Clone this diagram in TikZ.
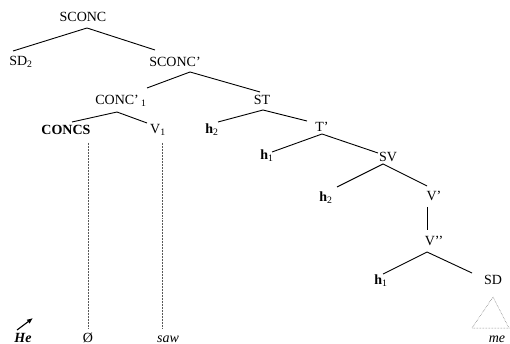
\documentclass[tikz,border=0pt]{standalone}
\usepackage{fontspec}
\setmainfont{Liberation Serif}
\usetikzlibrary{arrows.meta}
\newcommand{\lsub}[1]{\textsubscript{\mdseries #1}}
\begin{document}
\begin{tikzpicture}[x=1pt,y=-1pt,
  lbl/.style={inner sep=0pt,font=\fontsize{14}{16}\selectfont},
  blbl/.style={lbl,font=\fontsize{14}{16}\selectfont\bfseries},
  ilbl/.style={lbl,font=\fontsize{14}{16}\selectfont\itshape},
  branch/.style={line width=0.9pt},
  trace/.style={densely dotted,line width=0.5pt,gray!70!black}]
\useasboundingbox (0,0) rectangle (510,344);
% labels
\node[lbl] (sconc) at (83,17) {SCONC};
\node[lbl] (sd2) at (21,62) {SD\lsub{2}};
\node[lbl] (sconcp) at (175,62) {SCONC’};
\node[lbl] (concp) at (121,101) {CONC’\,\lsub{1}};
\node[lbl] (st) at (262,100) {ST};
\node[blbl] (concs) at (66,130) {CONCS};
\node[lbl] (v1) at (158,130) {V\lsub{1}};
\node[blbl] (ha) at (212,130) {h\lsub{2}};
\node[lbl] (tp) at (322,127) {T’};
\node[blbl] (hb) at (267,156) {h\lsub{1}};
\node[lbl] (sv) at (388,157) {SV};
\node[blbl] (hc) at (326,198) {h\lsub{2}};
\node[lbl] (vp) at (434,196) {V’};
\node[lbl] (vpp) at (434,241) {V’’};
\node[blbl] (hd) at (381,281) {h\lsub{1}};
\node[lbl] (sd) at (493,280) {SD};
\node[lbl,anchor=base,font=\fontsize{14}{16}\selectfont\bfseries\itshape] (he) at (23,342) {He};
\node[lbl,anchor=base] (empty) at (88,342) {Ø};
\node[ilbl,anchor=base] (saw) at (168,342) {saw};
\node[ilbl,anchor=base] (me) at (497,342) {me};
% branch points
\coordinate (a1) at (87,28);   \coordinate (l1) at (13,51);  \coordinate (r1) at (155,50);
\coordinate (a2) at (190,72);  \coordinate (l2) at (147,88); \coordinate (r2) at (260,92);
\coordinate (a3) at (117,112); \coordinate (l3) at (72,122); \coordinate (r3) at (147,123);
\coordinate (a4) at (263,110); \coordinate (l4) at (218,122);\coordinate (r4) at (307,121);
\coordinate (a5) at (322,134); \coordinate (l5) at (272,152);\coordinate (r5) at (378,153);
\coordinate (a6) at (383,164); \coordinate (l6) at (337,187);\coordinate (r6) at (427,186);
\coordinate (a7) at (427,207); \coordinate (b7) at (427,230);
\coordinate (a8) at (427,252); \coordinate (l8) at (383,274);\coordinate (r8) at (472,273);
\coordinate (t1) at (88,143);  \coordinate (t2) at (88,329);
\coordinate (u1) at (162,143); \coordinate (u2) at (162,329);
\coordinate (tri) at (493,297); \coordinate (trl) at (472,328); \coordinate (trr) at (509,328);
\coordinate (arr1) at (17,330); \coordinate (arr2) at (33,318);
% branches
\draw[branch] (l1) -- (a1) -- (r1);
\draw[branch] (l2) -- (a2) -- (r2);
\draw[branch] (l3) -- (a3) -- (r3);
\draw[branch] (l4) -- (a4) -- (r4);
\draw[branch] (l5) -- (a5) -- (r5);
\draw[branch] (l6) -- (a6) -- (r6);
\draw[branch] (a7) -- (b7);
\draw[branch] (l8) -- (a8) -- (r8);
% traces and the collapsed SD
\draw[trace] (t1) -- (t2);
\draw[trace] (u1) -- (u2);
\draw[trace] (trl) -- (tri) -- (trr) -- cycle;
\draw[line width=1.1pt,-{Latex[length=6pt,width=5pt]}] (arr1) -- (arr2);
\end{tikzpicture}
\end{document}
